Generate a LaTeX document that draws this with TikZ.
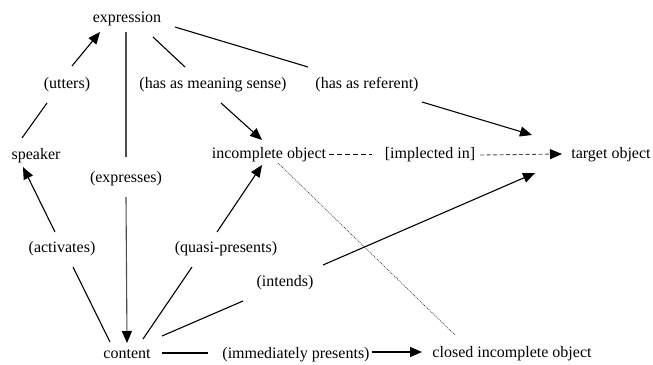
\documentclass[tikz,border=0pt]{standalone}
\usepackage{fontspec}
\setmainfont{Liberation Serif}
\usetikzlibrary{calc,arrows.meta}
\begin{document}
\begin{tikzpicture}[x=1pt,y=-1pt,
  lbl/.style={inner sep=0pt,anchor=base,font=\fontsize{16}{19}\selectfont},
  conn/.style={line width=1.1pt,black},
  tip/.style={-{Triangle[length=12pt,width=10pt,fill=black,color=black]}},
  arr/.style={conn,tip},
  vert/.style={line width=1.1pt,black!70}]
\useasboundingbox (0,0) rectangle (653,364);
\node[lbl] (expression) at (127,23) {expression};
\node[lbl] (utters) at (67,88) {(utters)};
\node[lbl] (meaning) at (213,88) {(has as meaning sense)};
\node[lbl] (referent) at (367,88) {(has as referent)};
\node[lbl] (speaker) at (36,159) {speaker};
\node[lbl] (incomplete) at (269,158) {incomplete object};
\node[lbl] (implected) at (430,158) {[implected in]};
\node[lbl] (target) at (611,158) {target object};
\node[lbl] (expresses) at (126,182) {(expresses)};
\node[lbl] (activates) at (62,252) {(activates)};
\node[lbl] (quasi) at (226,252) {(quasi-presents)};
\node[lbl] (intends) at (285,286) {(intends)};
\node[lbl] (content) at (127,358) {content};
\node[lbl] (immediately) at (296,358) {(immediately presents)};
\node[lbl] (closed) at (512,357) {closed incomplete object};

\draw[conn] ($(speaker.base)+(-14,-21)$) -- ($(utters.base)+(-20,15)$);
\draw[arr] ($(utters.base)+(5,-22)$) -- ($(expression.base)+(-27,9)$);
\draw[vert] ($(expression.base)+(-1,9)$) -- ($(expresses.base)+(0,-25)$);
\draw[vert,tip] ($(expresses.base)+(0,15)$) -- ($(content.base)+(0,-15)$);
\draw[conn] ($(expression.base)+(26,14)$) -- ($(meaning.base)+(-28,-21)$);
\draw[arr] ($(meaning.base)+(8,15)$) -- ($(incomplete.base)+(-7,-18)$);
\draw[conn] ($(expression.base)+(48,4)$) -- ($(referent.base)+(-59,-21)$);
\draw[arr] ($(referent.base)+(55,14)$) -- ($(target.base)+(-79,-23)$);
\draw[line width=1pt,dash pattern=on 5pt off 3pt] ($(incomplete.base)+(60,-4)$) -- ($(implected.base)+(-58,-4)$);
\draw[line width=0.9pt,black!70,dash pattern=on 4pt off 2.5pt,tip] ($(implected.base)+(50,-3)$) -- ($(target.base)+(-49,-4)$);
\draw[line width=0.6pt,black!80,dash pattern=on 1pt off 1pt] ($(incomplete.base)+(9,5)$) -- ($(closed.base)+(-57,-22)$);
\draw[arr] ($(activates.base)+(-7,-20)$) -- ($(speaker.base)+(-13,8)$);
\draw[conn] ($(activates.base)+(11,15)$) -- ($(content.base)+(-17,-16)$);
\draw[conn] ($(content.base)+(16,-19)$) -- ($(quasi.base)+(-34,15)$);
\draw[arr] ($(quasi.base)+(-9,-20)$) -- ($(incomplete.base)+(-7,7)$);
\draw[conn] ($(content.base)+(35,-22)$) -- ($(intends.base)+(-42,15)$);
\draw[arr] ($(intends.base)+(38,-21)$) -- ($(target.base)+(-76,15)$);
\draw[conn] ($(content.base)+(35,-5)$) -- ($(immediately.base)+(-88,-5)$);
\draw[arr] ($(immediately.base)+(76,-6)$) -- ($(closed.base)+(-90,-5)$);
\end{tikzpicture}
\end{document}
